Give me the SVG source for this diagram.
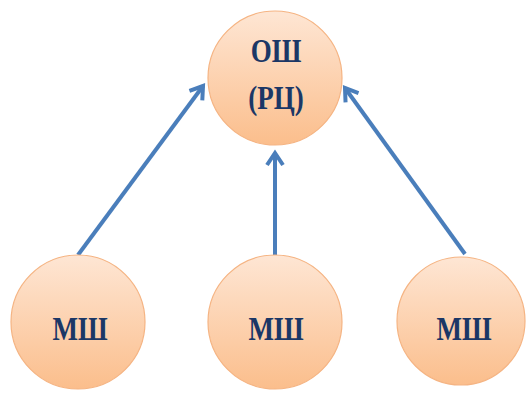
<svg xmlns="http://www.w3.org/2000/svg" width="527" height="394" viewBox="0 0 527 394">
<defs>
<linearGradient id="g" x1="0" y1="0" x2="0" y2="1">
<stop offset="0" stop-color="#FEE6D4"/>
<stop offset="1" stop-color="#FBBE8C"/>
</linearGradient>
<marker id="ah" viewBox="0 0 12 12" refX="10" refY="6" markerWidth="12" markerHeight="12" markerUnits="userSpaceOnUse" orient="auto" overflow="visible">
<path d="M-2,-2 L10,6 L-2,14" fill="none" stroke="#4A7EBB" stroke-width="4" stroke-linejoin="miter" stroke-linecap="butt"/>
</marker>
<style>
.n{fill:url(#g);stroke:#F5B483;stroke-width:1.2}
.t{font-family:"Liberation Serif","DejaVu Serif",serif;font-weight:bold;font-size:27px;fill:#1B3766;text-anchor:middle}
.c{fill:none;stroke:#4A7EBB;stroke-width:4;marker-end:url(#ah)}
</style>
</defs>
<g id="connectors">
<line class="c" x1="78" y1="255" x2="203" y2="86"/>
<line class="c" x1="275" y1="255" x2="275" y2="153"/>
<line class="c" x1="465" y1="254" x2="345" y2="88"/>
</g>
<g id="node-top">
<circle class="n" cx="275" cy="78" r="67"/>
<text class="t" transform="translate(276,62) scale(1,1.25)">ОШ</text>
<text class="t" transform="translate(276,109) scale(1,1.25)">(РЦ)</text>
</g>
<g id="node-left">
<circle class="n" cx="78" cy="322" r="67"/>
<text class="t" transform="translate(80,340) scale(1,1.25)">МШ</text>
</g>
<g id="node-middle">
<circle class="n" cx="275" cy="322" r="67"/>
<text class="t" transform="translate(276,340) scale(1,1.25)">МШ</text>
</g>
<g id="node-right">
<circle class="n" cx="461" cy="321" r="64"/>
<text class="t" transform="translate(464,340) scale(1,1.25)">МШ</text>
</g>
</svg>
